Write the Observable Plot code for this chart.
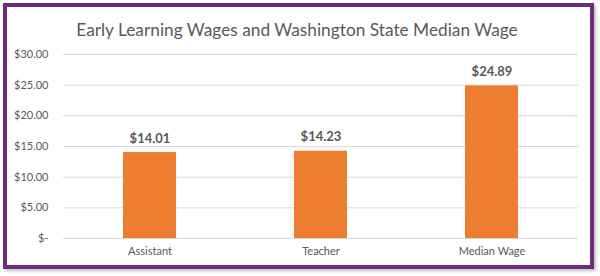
<!DOCTYPE html>
<html>
<head>
<meta charset="utf-8">
<script src="https://cdn.jsdelivr.net/npm/d3@7"></script>
<script src="https://cdn.jsdelivr.net/npm/@observablehq/plot@0.6"></script>
<style>
  html, body { margin: 0; padding: 0; background: #fff; }
  #wrap { position: relative; width: 600px; height: 276px; overflow: hidden; font-family: Lato, "Open Sans", sans-serif; }
  #frame { position: absolute; left: 3px; top: 3px; width: 591px; height: 266px; box-sizing: border-box; border: 4px solid #6e2c7e; box-shadow: 2px 2px 3px rgba(0,0,0,0.25); }
  #title { position: absolute; left: 0; width: 594px; top: 19px; text-align: center; font-size: 17.3px; color: #595959; }
  #chart { position: absolute; left: 0; top: 0; }
</style>
</head>
<body>
<div id="wrap">
  <div id="frame"></div>
  <div id="title">Early Learning Wages and Washington State Median Wage</div>
  <div id="chart"></div>
</div>
<script>
const categories = ["Assistant", "Teacher", "Median Wage"];
const wages = [14.01, 14.23, 24.89];
const yTicks = [0, 5, 10, 15, 20, 25, 30];

const data = categories.map((c, i) => ({category: c, wage: wages[i]}));

const plot = Plot.plot({
  width: 600,
  height: 276,
  marginLeft: 63,
  marginRight: 22,
  marginTop: 54,
  marginBottom: 38,
  style: {fontFamily: "Lato, 'Open Sans', sans-serif", background: "transparent", color: "#595959"},
  x: {domain: categories, padding: 0, label: null},
  y: {domain: [0, 30], label: null},
  marks: [
    Plot.gridY(yTicks, {stroke: "#d9d9d9", strokeOpacity: 1, strokeWidth: 1}),
    Plot.barY(data, {x: "category", y: "wage", fill: "#ED7D31", insetLeft: 59, insetRight: 59}),
    Plot.text(data, {x: "category", y: "wage", text: d => "$" + d.wage.toFixed(2), dy: -14, fontWeight: "bold", fontSize: 13, fill: "#595959"}),
    Plot.axisY(yTicks, {tickSize: 0, tickPadding: 15, fontSize: 11, fill: "#595959", label: null,
      tickFormat: d => d === 0 ? "$-" : "$" + d.toFixed(2)}),
    Plot.axisX({tickSize: 0, tickPadding: 9, fontSize: 11, fill: "#595959", label: null})
  ]
});
document.getElementById("chart").appendChild(plot);
</script>
</body>
</html>
